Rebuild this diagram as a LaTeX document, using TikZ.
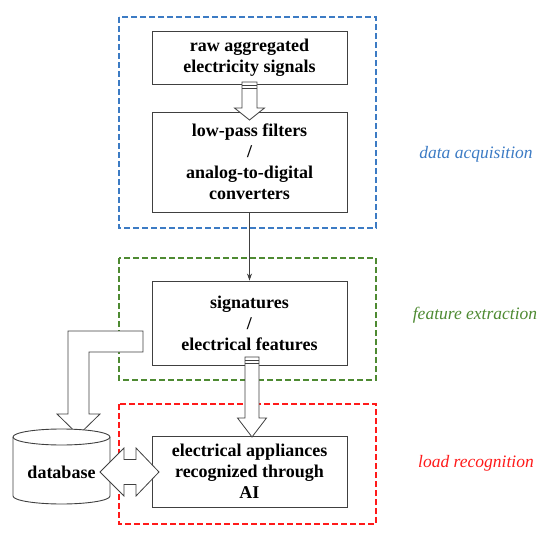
\documentclass[tikz,border=0pt]{standalone}
\usepackage{fontspec}
\setmainfont{Liberation Serif}
\usetikzlibrary{arrows.meta}
\definecolor{lineg}{HTML}{404040}
\definecolor{cblue}{HTML}{3C7BC4}
\definecolor{cgreen}{HTML}{4E8A32}
\definecolor{cred}{HTML}{FF1A1A}
\begin{document}
\begin{tikzpicture}[x=1pt,y=-1pt,
  stepbox/.style={draw=lineg, line width=0.9pt, fill=white, minimum width=195pt, align=center,
     font=\fontsize{18}{21}\selectfont\bfseries, inner sep=0pt},
  region/.style={line width=1.3pt, dash pattern=on 6pt off 3pt},
  hollow/.style={draw=lineg, line width=0.8pt, fill=white, line join=miter},
  lbl/.style={font=\fontsize{17.5}{20}\selectfont\itshape}]
\useasboundingbox (0,0) rectangle (550,538);
% regions
\draw[region, draw=cblue] (119,17) rectangle (376,228);
\draw[region, draw=cgreen] (119,258) rectangle (376,380);
\draw[region, draw=cred] (119,404) rectangle (376,524);
% boxes
\node[stepbox, minimum height=53pt] (raw) at (249.5,57.5) {raw aggregated\\electricity signals};
\node[stepbox, minimum height=100pt] (filt) at (249.5,162) {low-pass filters\\/\\analog-to-digital\\converters};
\node[stepbox, minimum height=84pt] (feat) at (249.5,323) {signatures\\/\\electrical features};
\node[stepbox, minimum height=71pt] (reco) at (249.5,471.5) {electrical appliances\\recognized through\\AI};
% thin arrow
\draw[lineg, line width=0.8pt, -{Stealth[length=7pt,width=5pt]}] (filt.south) -- (feat.north);
% hollow arrow 1
\draw[hollow] (242,82) -- (257,82) -- (257,108) -- (264.5,108) -- (249.5,120) -- (234.5,108) -- (242,108) -- cycle;
\draw[lineg, line width=0.6pt] (242,85) -- (257,85) (242,88) -- (257,88);
% hollow arrow 2
\draw[hollow] (245,357) -- (259,357) -- (259,418) -- (266.5,418) -- (252,437) -- (237.5,418) -- (245,418) -- cycle;
\draw[lineg, line width=0.6pt] (245,360) -- (259,360) (245,363) -- (259,363);
% L-shaped arrow to database
\draw[hollow] (68,331) -- (143,331) -- (143,352) -- (89,352) -- (89,414) -- (100,414) -- (78.5,435) -- (57,414) -- (68,414) -- cycle;
% database cylinder
\draw[lineg, line width=0.9pt, fill=white] (13,437) -- (13,496) arc[start angle=180, end angle=0, x radius=48.5, y radius=8] -- (110,437) arc[start angle=0, end angle=-180, x radius=48.5, y radius=8] -- cycle;
\draw[lineg, line width=0.9pt] (13,437) arc[start angle=180, end angle=0, x radius=48.5, y radius=8];
\node[font=\fontsize{18}{21}\selectfont\bfseries, inner sep=0pt] (db) at (61.5,472) {database};
% double arrow
\draw[hollow] (100,472) -- (124,448) -- (124,459.5) -- (136,459.5) -- (136,448) -- (159,472) -- (136,496) -- (136,484.5) -- (124,484.5) -- (124,496) -- cycle;
% labels
\node[lbl, text=cblue] (la) at (476,154) {data acquisition};
\node[lbl, text=cgreen] (lb) at (475,315) {feature extraction};
\node[lbl, text=cred] (lc) at (476,463) {load recognition};
\end{tikzpicture}
\end{document}
